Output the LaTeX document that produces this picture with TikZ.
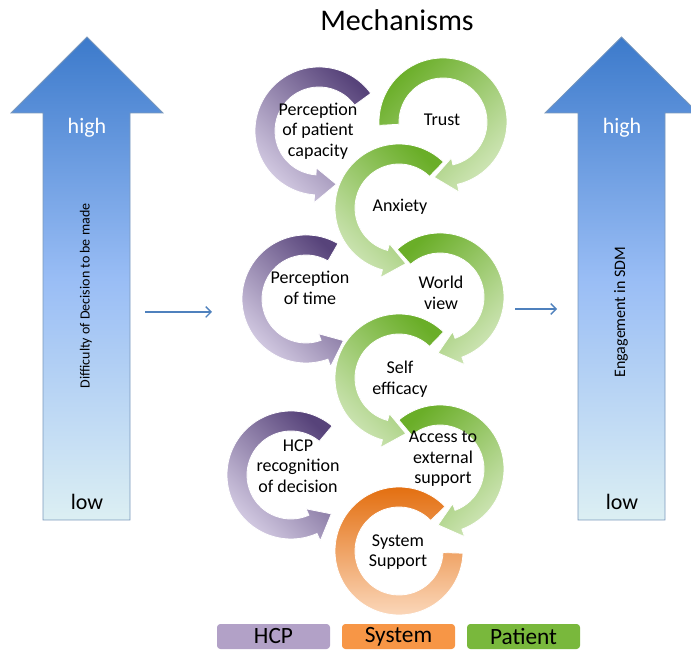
\documentclass[tikz,border=0pt]{standalone}
\usepackage{fontspec}
\setmainfont{Carlito}
\usetikzlibrary{arrows.meta}

\definecolor{hcpdark}{HTML}{57437A}
\definecolor{hcplight}{HTML}{DAD2E8}
\definecolor{patdark}{HTML}{6AAE28}
\definecolor{patlight}{HTML}{D0E6B8}
\definecolor{sysdark}{HTML}{E26A08}
\definecolor{syslight}{HTML}{FCDCC2}
\definecolor{bluedark}{HTML}{3C7ACB}
\definecolor{bluemid}{HTML}{99BDF5}
\definecolor{bluelight}{HTML}{DCEFF3}
\definecolor{blueedge}{HTML}{7A98BC}
\definecolor{flowblue}{HTML}{4F81BD}
\definecolor{leghcp}{HTML}{B2A1C7}
\definecolor{legsys}{HTML}{F79646}
\definecolor{legpat}{HTML}{79B83C}

% ring with arrow head: [style] {centre} {start} {end} {tip}
\newcommand{\cyclearrow}[5][]{%
  \path[#1, shift={#2}] (#3:64) arc[start angle=#3, end angle=#4, radius=64]
    -- (#4:72) -- (#5:56) -- (#4:37) -- (#4:44)
    arc[start angle=#4, end angle=#3, radius=44] -- cycle;}

\begin{document}
\begin{tikzpicture}[x=0.75pt, y=0.75pt,
    ringtext/.style={align=center, inner sep=0pt, font=\fontsize{13.5}{15.5}\selectfont},
    hcpring/.style={top color=hcpdark, bottom color=hcplight, draw=white, line width=0.6pt},
    patring/.style={top color=patdark, bottom color=patlight, draw=white, line width=0.6pt},
    sysring/.style={top color=sysdark, bottom color=syslight, draw=white, line width=0.6pt},
    bigarrow/.style={top color=bluedark, bottom color=bluelight, middle color=bluemid, draw=blueedge, line width=0.6pt},
    level/.style={inner sep=0pt, font=\fontsize{16.5}{18}\selectfont},
    legbox/.style={rounded corners=2.5pt, minimum width=84.75pt, minimum height=18.75pt, inner sep=0pt, font=\fontsize{17.5}{19}\selectfont},
    flow/.style={draw=flowblue, line width=1pt, -{Straight Barb[length=4pt, width=8pt]}}]
    \useasboundingbox (0,0) rectangle (691,652);

    % Big arrows left and right
    \path[bigarrow] (43,132) -- (43,539) -- (11,539) -- (87,615) -- (163,539) -- (130,539) -- (130,132) -- cycle;
    \path[bigarrow] (578,132) -- (578,539) -- (545,539) -- (621.5,615) -- (698,539) -- (665,539) -- (665,132) -- cycle;
    \node[level, white] (hi-l) at (87,524) {high};
    \node[level] (lo-l) at (87,150) {low};
    \node[rotate=90, inner sep=0pt, font=\fontsize{10.5}{12}\selectfont] (diff) at (86,356) {Difficulty of Decision to be made};
    \node[level, white] (hi-r) at (622,524) {high};
    \node[level] (lo-r) at (622,150) {low};
    \node[rotate=90, inner sep=0pt, font=\fontsize{12}{14}\selectfont] (engage) at (621,340) {Engagement in SDM};

    \coordinate (in-a) at (145,340);
    \coordinate (in-b) at (212,340);
    \coordinate (out-a) at (515,343);
    \coordinate (out-b) at (557,343);
    \draw[flow] (in-a) -- (in-b);
    \draw[flow] (out-a) -- (out-b);

    % Mechanism rings
    \cyclearrow[hcpring, shading angle=-45]{(319,521)}{36}{266}{288}
    \cyclearrow[patring, shading angle=45]{(443,530)}{183}{-77}{-99}
    \cyclearrow[patring, shading angle=-45]{(399,444)}{46}{255}{277}
    \cyclearrow[hcpring, shading angle=-45]{(306,353)}{60}{290}{312}
    \cyclearrow[patring, shading angle=45]{(440,355)}{132}{-70}{-92}
    \cyclearrow[patring, shading angle=-45]{(399,274)}{46}{255}{277}
    \cyclearrow[hcpring, shading angle=-45]{(291,177)}{50}{294}{316}
    \cyclearrow[patring, shading angle=45]{(440,183)}{130}{-70}{-92}
    \path[sysring, shift={(399,101)}] (44:64) arc[start angle=44, end angle=358, radius=64]
        -- (358:44) arc[start angle=358, end angle=44, radius=44] -- cycle;

    \node[ringtext] (ppc) at (318,521) {Perception\\of patient\\capacity};
    \node[ringtext] (trust) at (442,532) {Trust};
    \node[ringtext] (anxiety) at (400,445) {Anxiety};
    \node[ringtext] (ptime) at (310,364) {Perception\\of time};
    \node[ringtext] (world) at (441,359) {World\\view};
    \node[ringtext] (selfeff) at (400,273) {Self\\efficacy};
    \node[ringtext] (hcprec) at (298,186) {HCP\\recognition\\of decision};
    \node[ringtext] (access) at (443,193) {Access to\\external\\support};
    \node[ringtext] (syssup) at (398,100) {System\\Support};

    \node[font=\fontsize{22.5}{25}\selectfont, inner sep=0pt] (title) at (397,632) {Mechanisms};

    % Legend
    \node[legbox, fill=leghcp] (leg-hcp) at (273.5,15.5) {HCP};
    \node[legbox, fill=legsys] (leg-sys) at (398.5,15.5) {System};
    \node[legbox, fill=legpat] (leg-pat) at (523.5,15.5) {Patient};
\end{tikzpicture}
\end{document}
